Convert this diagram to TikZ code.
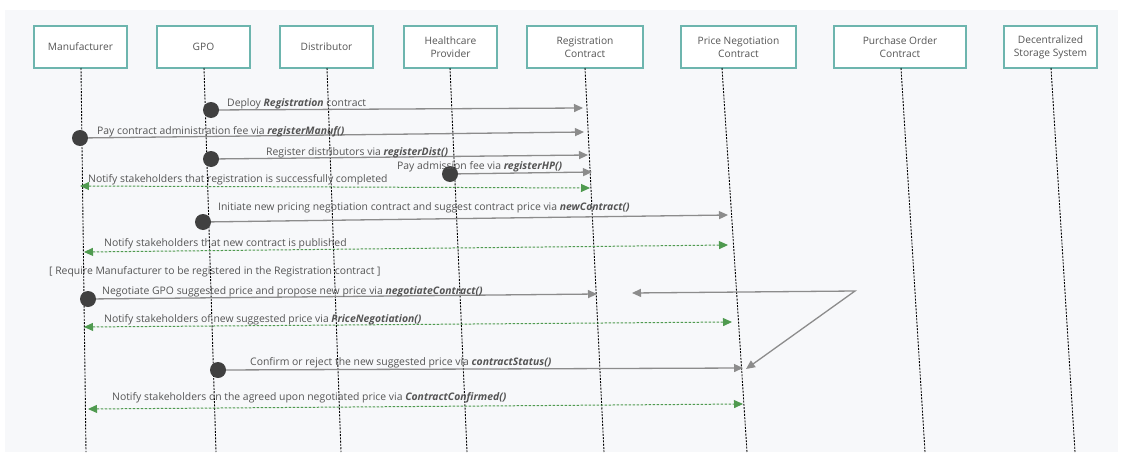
\documentclass[tikz,border=0pt]{standalone}
\usepackage{fontspec}
\setmainfont{Open Sans}
\usetikzlibrary{arrows.meta}
\definecolor{bgc}{HTML}{F7F8FA}
\definecolor{boxline}{HTML}{6DB5AE}
\definecolor{txt}{HTML}{555555}
\definecolor{msgc}{HTML}{8C8C8C}
\definecolor{dotc}{HTML}{404040}
\definecolor{greenc}{HTML}{4F9A4F}
\tikzset{
  actor/.style={draw=boxline, line width=1.2pt, fill=white, minimum height=42pt, align=center,
    text=txt, font=\fontsize{10.2}{13}\selectfont, inner sep=0pt},
  lifeline/.style={draw=black, line width=0.9pt, dash pattern=on 2pt off 1.3pt},
  msg/.style={draw=msgc, line width=1.3pt, -{Triangle[length=9pt,width=8pt]}},
  stray/.style={draw=msgc, line width=1.3pt, {Triangle[length=9pt,width=8pt]}-{Triangle[length=9pt,width=8pt]}},
  reply/.style={draw=greenc, line width=1pt, dash pattern=on 2.5pt off 1.5pt,
    {Triangle[length=9pt,width=8pt]}-{Triangle[length=9pt,width=8pt]}},
  actdot/.style={circle, fill=dotc, minimum size=16pt, inner sep=0pt},
  lbl/.style={anchor=base west, text=txt, font=\fontsize{10.4}{12}\selectfont, inner sep=0pt},
}
\newcommand{\fn}[1]{\textbf{\textit{#1}}}
\begin{document}
\begin{tikzpicture}[x=1pt,y=-1pt]
\useasboundingbox (0,0) rectangle (1131,452);
\fill[white] (0,0) rectangle (1131,452);
\fill[bgc] (5,10) rectangle (1118,452);

% actors
\node[actor, minimum width=93pt] (man) at (80.5,47) {Manufacturer};
\node[actor, minimum width=93pt] (gpo) at (203.5,47) {GPO};
\node[actor, minimum width=93pt] (dist) at (326.5,47) {Distributor};
\node[actor, minimum width=93pt] (hp) at (450.5,47) {Healthcare\\Provider};
\node[actor, minimum width=116pt] (reg) at (585,47) {Registration\\Contract};
\node[actor, minimum width=115pt] (pn) at (738.5,47) {Price Negotiation\\Contract};
\node[actor, minimum width=132pt] (po) at (900,47) {Purchase Order\\Contract};
\node[actor, minimum width=93pt] (dss) at (1050.5,47) {Decentralized\\Storage System};

% lifelines
\coordinate (manT) at (81,68);   \coordinate (manB) at (86,452);
\coordinate (gpoT) at (204,68);  \coordinate (gpoB) at (216,452);
\coordinate (distT) at (327,68); \coordinate (distB) at (341,452);
\coordinate (hpT) at (450,68);   \coordinate (hpB) at (467,452);
\coordinate (regT) at (585,68);  \coordinate (regB) at (604,452);
\coordinate (pnT) at (722,68);   \coordinate (pnB) at (747,452);
\coordinate (poT) at (901,68);   \coordinate (poB) at (925,452);
\coordinate (dssT) at (1051,68); \coordinate (dssB) at (1075,452);
\foreach \a in {man,gpo,dist,hp,reg,pn,po,dss}{
  \draw[lifeline] (\a T) -- (\a B);
}

% 1 Deploy
\node[actdot] (d1) at (211,110) {};
\coordinate (e1) at (583,108);
\draw[msg] (d1) -- (e1);
\node[lbl] (l1) at (227,106) {Deploy \fn{Registration} contract};

% 2 registerManuf
\node[actdot] (d2) at (80,138) {};
\coordinate (e2) at (584,132);
\draw[msg] (d2) -- (e2);
\node[lbl] (l2) at (97,134) {Pay contract administration fee via \fn{registerManuf()}};

% 3 registerDist
\node[actdot] (d3) at (211,159) {};
\coordinate (e3) at (588,155);
\draw[msg] (d3) -- (e3);
\node[lbl] (l3) at (266,155) {Register distributors via \fn{registerDist()}};

% 4 registerHP
\node[actdot] (d4) at (450,174) {};
\coordinate (e4) at (592,172);
\draw[msg] (d4) -- (e4);
\node[lbl] (l4) at (397,169) {Pay admission fee via \fn{registerHP()}};

% 5 notify registration
\coordinate (g5a) at (80,186);
\coordinate (g5b) at (590,188);
\draw[reply] (g5a) -- (g5b);
\node[lbl] (l5) at (88,182) {Notify stakeholders that registration is successfully completed};

% 6 newContract
\node[actdot] (d6) at (203,222) {};
\coordinate (e6) at (728,215);
\draw[msg] (d6) -- (e6);
\node[lbl] (l6) at (218,210) {Initiate new pricing negotiation contract and suggest contract price via \fn{newContract()}};

% 7 notify published
\coordinate (g7a) at (84,252);
\coordinate (g7b) at (728,245);
\draw[reply] (g7a) -- (g7b);
\node[lbl] (l7) at (104,246) {Notify stakeholders that new contract is published};

% guard
\node[lbl] (guard) at (49,274) {[ Require Manufacturer to be registered in the Registration contract ]};

% 9 negotiateContract
\node[actdot] (d9) at (88,299) {};
\coordinate (e9) at (597,294);
\draw[msg] (d9) -- (e9);
\node[lbl] (l9) at (102,294) {Negotiate GPO suggested price and propose new price via \fn{negotiateContract()}};

% stray connector
\coordinate (sA) at (632,293);
\coordinate (kink) at (855,291);
\coordinate (sB) at (746,369);
\draw[stray] (sA) -- (kink) -- (sB);

% 11 PriceNegotiation
\coordinate (g11a) at (84,327);
\coordinate (g11b) at (732,322);
\draw[reply] (g11a) -- (g11b);
\node[lbl] (l11) at (104,322) {Notify stakeholders of new suggested price via \fn{PriceNegotiation()}};

% 12 contractStatus
\node[actdot] (d12) at (218,370) {};
\coordinate (e12) at (743,368);
\draw[msg] (d12) -- (e12);
\node[lbl] (l12) at (250,365) {Confirm or reject the new suggested price via \fn{contractStatus()}};

% 13 ContractConfirmed
\coordinate (g13a) at (88,409);
\coordinate (g13b) at (743,404);
\draw[reply] (g13a) -- (g13b);
\node[lbl] (l13) at (112,400) {Notify stakeholders on the agreed upon negotiated price via \fn{ContractConfirmed()}};
\end{tikzpicture}
\end{document}
